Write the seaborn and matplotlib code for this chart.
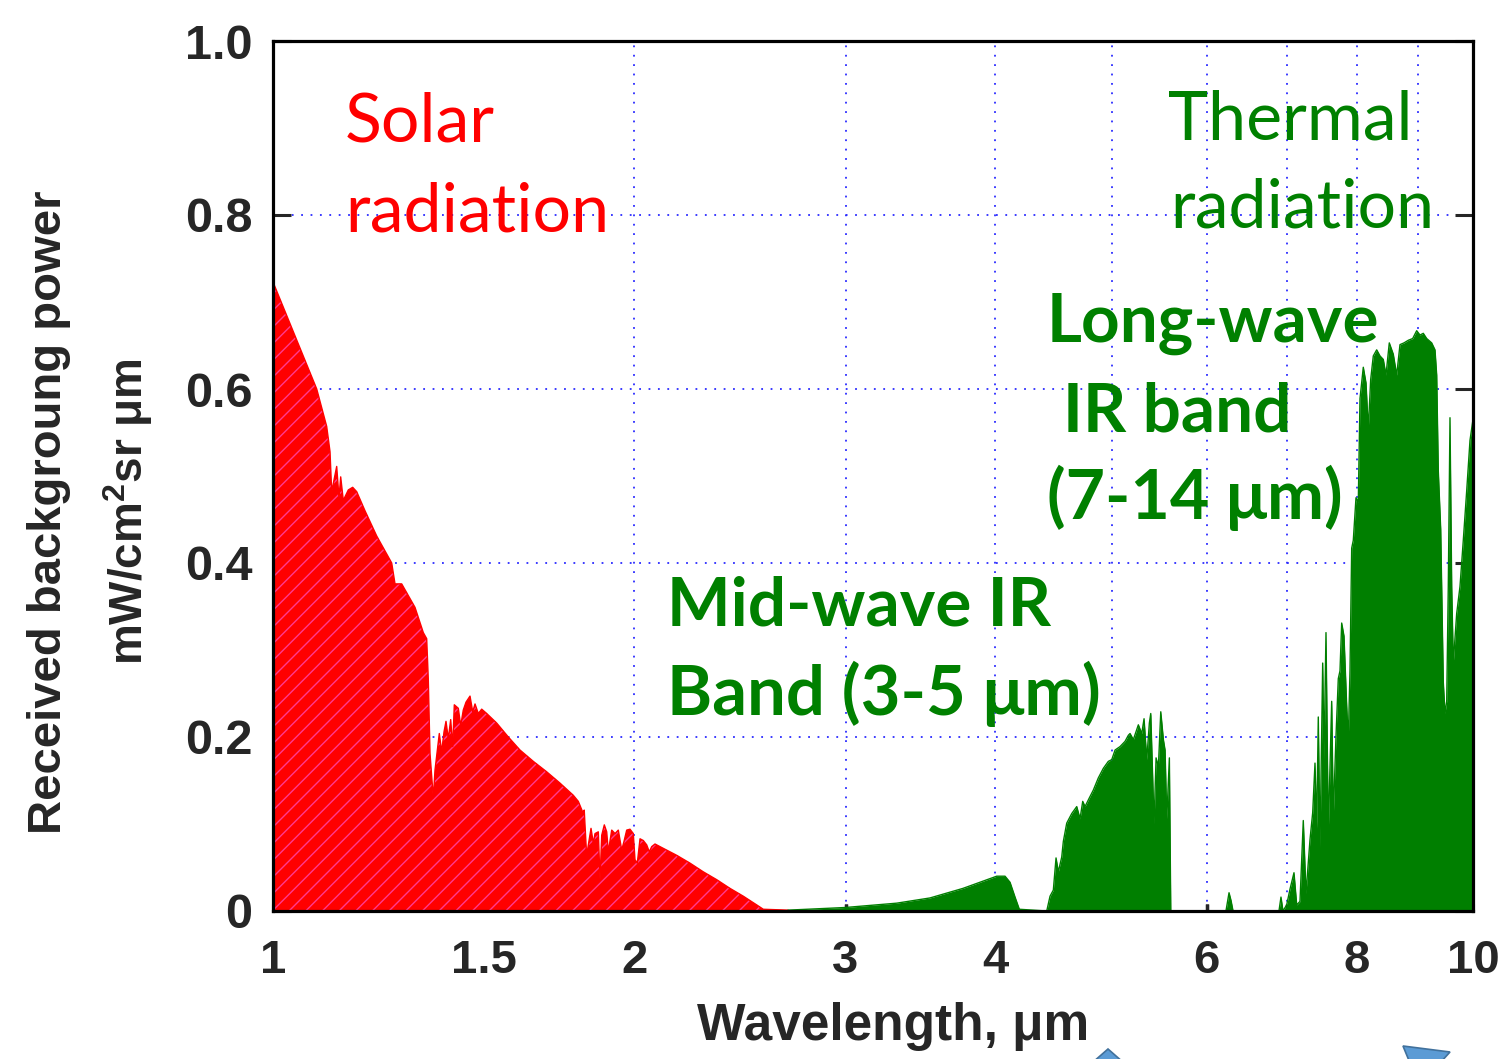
import matplotlib
matplotlib.use("Agg")
import matplotlib.pyplot as plt
import numpy as np
import pandas as pd
import seaborn as sns
from matplotlib.ticker import FixedLocator, NullFormatter
from matplotlib.patches import Polygon

# ---------------- data ----------------
solar_wl = [1.000, 1.0875, 1.1085, 1.1156, 1.1192, 1.1300, 1.1350, 1.1387, 1.1444, 1.1555,
            1.1652, 1.1742, 1.1931, 1.2202, 1.2558, 1.2638, 1.2801, 1.3132, 1.3343, 1.3430,
            1.3471, 1.3516, 1.3601, 1.3646, 1.3759, 1.3822, 1.3884, 1.3937, 1.3999, 1.4063,
            1.4117, 1.4161, 1.4270, 1.4336, 1.4407, 1.4482, 1.4546, 1.4594, 1.4670, 1.4735,
            1.4828, 1.4925, 1.5069, 1.5361, 1.5707, 1.6063, 1.6478, 1.6907, 1.7344, 1.7793,
            1.7965, 1.8138, 1.8170, 1.8257, 1.8285, 1.8408, 1.8490, 1.8550, 1.8668, 1.8729,
            1.8790, 1.8884, 1.8971, 1.9030, 1.9154, 1.9276, 1.9398, 1.9525, 1.9611, 1.9713,
            1.9838, 1.9964, 2.0029, 2.0118, 2.0223, 2.0351, 2.0484, 2.0587, 2.0682, 2.0813,
            2.1147, 2.1698, 2.2259, 2.2834, 2.3429, 2.4034, 2.4656, 2.5297, 2.5620, 2.6863]
solar_pw = [0.723, 0.600, 0.557, 0.528, 0.482, 0.511, 0.475, 0.499, 0.472, 0.484,
            0.487, 0.482, 0.460, 0.431, 0.400, 0.376, 0.376, 0.349, 0.320, 0.313,
            0.267, 0.181, 0.130, 0.162, 0.204, 0.183, 0.206, 0.218, 0.198, 0.220,
            0.189, 0.237, 0.233, 0.213, 0.231, 0.240, 0.244, 0.247, 0.229, 0.238,
            0.227, 0.232, 0.227, 0.216, 0.200, 0.185, 0.172, 0.160, 0.147, 0.133,
            0.126, 0.112, 0.116, 0.062, 0.070, 0.095, 0.078, 0.089, 0.091, 0.036,
            0.087, 0.099, 0.091, 0.068, 0.093, 0.089, 0.093, 0.070, 0.080, 0.093,
            0.094, 0.089, 0.059, 0.055, 0.083, 0.081, 0.076, 0.068, 0.074, 0.077,
            0.072, 0.064, 0.055, 0.045, 0.036, 0.026, 0.017, 0.007, 0.002, 0.001]

thermal_wl = [2.6863, 2.9969, 3.3093, 3.5277, 3.7583, 3.8829, 4.0096, 4.0740, 4.1133, 4.1529,
              4.1873, 4.4135, 4.4415, 4.4697, 4.4929, 4.5128, 4.5423, 4.5563, 4.5861, 4.6303,
              4.6750, 4.7047, 4.7291, 4.7500, 4.7894, 4.8263, 4.8728, 4.9198, 4.9672, 5.0000,
              5.0317, 5.0802, 5.1292, 5.1618, 5.1786, 5.2115, 5.2386, 5.2617, 5.2962, 5.3196,
              5.3472, 5.3740, 5.3884, 5.4227, 5.4436, 5.4680, 5.4930, 5.5205, 5.5384, 5.5566,
              5.5844, 5.5994, 6.2250, 6.2617, 6.2858, 6.3101, 6.8915, 6.9180, 6.9446, 6.9941,
              7.0385, 7.0929, 7.1297, 7.1750, 7.2206, 7.2581, 7.3141, 7.3521, 7.3846, 7.4087,
              7.4315, 7.4558, 7.4945, 7.5132, 7.5421, 7.5755, 7.6250, 7.6484, 7.6882, 7.7222,
              7.7474, 7.7727, 7.8071, 7.8476, 7.8717, 7.8975, 7.9233, 7.9477, 7.9890, 8.0243,
              8.0506, 8.1017, 8.1438, 8.1798, 8.2176, 8.2587, 8.3127, 8.3655, 8.4186, 8.4623,
              8.5161, 8.5817, 8.6378, 8.6927, 8.7597, 8.8323, 8.9071, 8.9758, 9.0328, 9.0902,
              9.1497, 9.2379, 9.2966, 9.3270, 9.3557, 9.3989, 9.4459, 9.4768, 9.5077, 9.5369,
              9.5681, 9.5994, 9.6289, 9.6919, 9.7535, 9.8154, 9.8797, 9.9425, 10.0]
thermal_pw = [0.001, 0.004, 0.009, 0.015, 0.026, 0.033, 0.040, 0.040, 0.033, 0.016,
              0.002, 0.000, 0.017, 0.024, 0.061, 0.045, 0.062, 0.080, 0.101, 0.112,
              0.120, 0.106, 0.126, 0.120, 0.130, 0.139, 0.153, 0.164, 0.172, 0.174,
              0.185, 0.189, 0.195, 0.202, 0.204, 0.197, 0.206, 0.214, 0.204, 0.221,
              0.174, 0.216, 0.227, 0.100, 0.176, 0.166, 0.229, 0.197, 0.185, 0.106,
              0.176, 0.000, 0.000, 0.021, 0.012, 0.000, 0.000, 0.016, 0.000, 0.007,
              0.025, 0.044, 0.007, 0.011, 0.104, 0.020, 0.082, 0.113, 0.170, 0.095,
              0.223, 0.073, 0.285, 0.174, 0.320, 0.090, 0.241, 0.108, 0.201, 0.267,
              0.276, 0.331, 0.316, 0.236, 0.196, 0.276, 0.417, 0.426, 0.475, 0.470,
              0.589, 0.625, 0.607, 0.554, 0.611, 0.638, 0.645, 0.638, 0.634, 0.616,
              0.653, 0.640, 0.616, 0.651, 0.653, 0.656, 0.658, 0.667, 0.662, 0.664,
              0.658, 0.653, 0.645, 0.616, 0.506, 0.439, 0.263, 0.227, 0.241, 0.373,
              0.567, 0.373, 0.285, 0.342, 0.373, 0.426, 0.483, 0.541, 0.565]

x_ticks = [1, 1.5, 2, 3, 4, 6, 8, 10]
x_tick_labels = ["1", "1.5", "2", "3", "4", "6", "8", "10"]
x_grid = [2, 3, 4, 5, 6, 7, 8, 9]
y_ticks = [0, 0.2, 0.4, 0.6, 0.8, 1.0]
y_tick_labels = ["0", "0.2", "0.4", "0.6", "0.8", "1.0"]

RED = "#ff0000"
GREEN = "#007f00"
TXT_GREEN = "#008000"

# ---------------- style ----------------
sns.set_style("white")
plt.rcParams["font.family"] = ["Liberation Sans", "DejaVu Sans"]
plt.rcParams["hatch.linewidth"] = 1.0
plt.rcParams["mathtext.fontset"] = "custom"
plt.rcParams["mathtext.rm"] = "Liberation Sans"
plt.rcParams["mathtext.bf"] = "Liberation Sans:bold"

W, H = 1498, 1059
fig = plt.figure(figsize=(W / 100, H / 100), dpi=100)
ax = fig.add_axes([273 / W, 148 / H, 1200 / W, 870 / H])
ax.set_axisbelow(True)
ax.set_xscale("log")

df = pd.concat([
    pd.DataFrame({"wavelength": solar_wl, "power": solar_pw, "source": "Solar"}),
    pd.DataFrame({"wavelength": thermal_wl, "power": thermal_pw, "source": "Thermal"}),
], ignore_index=True)

ax.fill_between(solar_wl, 0, solar_pw, facecolor=RED, edgecolor="#ff3a8f",
                hatch="//", linewidth=0, zorder=1)
ax.fill_between(thermal_wl, 0, thermal_pw, facecolor=GREEN, linewidth=0, zorder=1)
sns.lineplot(data=df, x="wavelength", y="power", hue="source",
             palette={"Solar": RED, "Thermal": GREEN}, estimator=None, sort=False,
             linewidth=1.0, legend=False, ax=ax, zorder=2)

ax.set_xlim(1, 10)
ax.set_ylim(0, 1.0)

# ticks
ax.xaxis.remove_overlapping_locs = False
ax.set_xticks(x_ticks)
ax.set_xticklabels(x_tick_labels)
ax.xaxis.set_minor_locator(FixedLocator(x_grid))
ax.xaxis.set_minor_formatter(NullFormatter())
ax.set_yticks(y_ticks)
ax.set_yticklabels(y_tick_labels)
ax.tick_params(axis="y", which="major", direction="in", length=13, width=2.2,
               left=True, right=True, labelsize=35, pad=15)
ax.tick_params(axis="x", which="major", direction="in", length=5, width=2.2,
               bottom=True, top=False, labelsize=34, pad=20)
ax.tick_params(axis="x", which="minor", direction="in", length=5, width=2.5,
               bottom=True, top=False)
for lab in ax.get_xticklabels() + ax.get_yticklabels():
    lab.set_fontweight("bold")

# grid
ax.grid(False)
grid_kw = dict(color="#2b2bff", linestyle=(0, (1, 4.2)), linewidth=1.3)
ax.xaxis.grid(True, which="minor", **grid_kw)
ax.yaxis.grid(True, which="major", **grid_kw)

for s in ax.spines.values():
    s.set_visible(True)
    s.set_color("black")
    s.set_linewidth(2.3)

# axis labels
ax.set_xlabel("")
ax.set_ylabel("")
fig.text(893 / W, 1 - 1040 / H, "Wavelength, μm", fontsize=37, fontweight="bold",
         ha="center", va="baseline")
fig.text(49 / W, 1 - 512 / H, "Received backgroung power", fontsize=34,
         fontweight="bold", rotation=90, ha="center", va="center")
fig.text(128 / W, 1 - 512 / H, r"mW/cm$^{\mathbf{2}}$sr μm", fontsize=33,
         fontweight="bold", rotation=90, ha="center", va="center")

# annotations
def ptext(x, y, s, color, size, weight="normal"):
    fig.text(x / W, 1 - y / H, s, color=color, fontsize=size, fontweight=weight,
             family=["Lato", "DejaVu Sans"], ha="left", va="baseline")

ptext(345, 142, "Solar", RED, 49)
ptext(345, 232, "radiation", RED, 49)
ptext(1168, 140, "Thermal", TXT_GREEN, 49)
ptext(1170, 228, "radiation", TXT_GREEN, 49)
ptext(1047, 342, "Long-wave", TXT_GREEN, 48.5, "bold")
ptext(1063, 431, "IR band", TXT_GREEN, 48.5, "bold")
ptext(1047, 519, "(7-14 μm)", TXT_GREEN, 49, "bold")
ptext(667, 626, "Mid-wave IR", TXT_GREEN, 48.5, "bold")
ptext(667, 715, "Band (3-5 μm)", TXT_GREEN, 49.5, "bold")

# fragments of blue arrows at the bottom edge
def px(pts):
    return [(x / W, 1 - y / H) for x, y in pts]

fig.add_artist(Polygon(px([(1108, 1049), (1124, 1063), (1092, 1063)]), closed=True,
                       transform=fig.transFigure, facecolor="#5b9bd5",
                       edgecolor="#41719c", linewidth=1.2))
fig.add_artist(Polygon(px([(1403, 1046), (1450, 1052), (1440, 1063), (1410, 1063)]),
                       closed=True, transform=fig.transFigure, facecolor="#5b9bd5",
                       edgecolor="#41719c", linewidth=1.2))

fig.savefig("out.png", dpi=100)
